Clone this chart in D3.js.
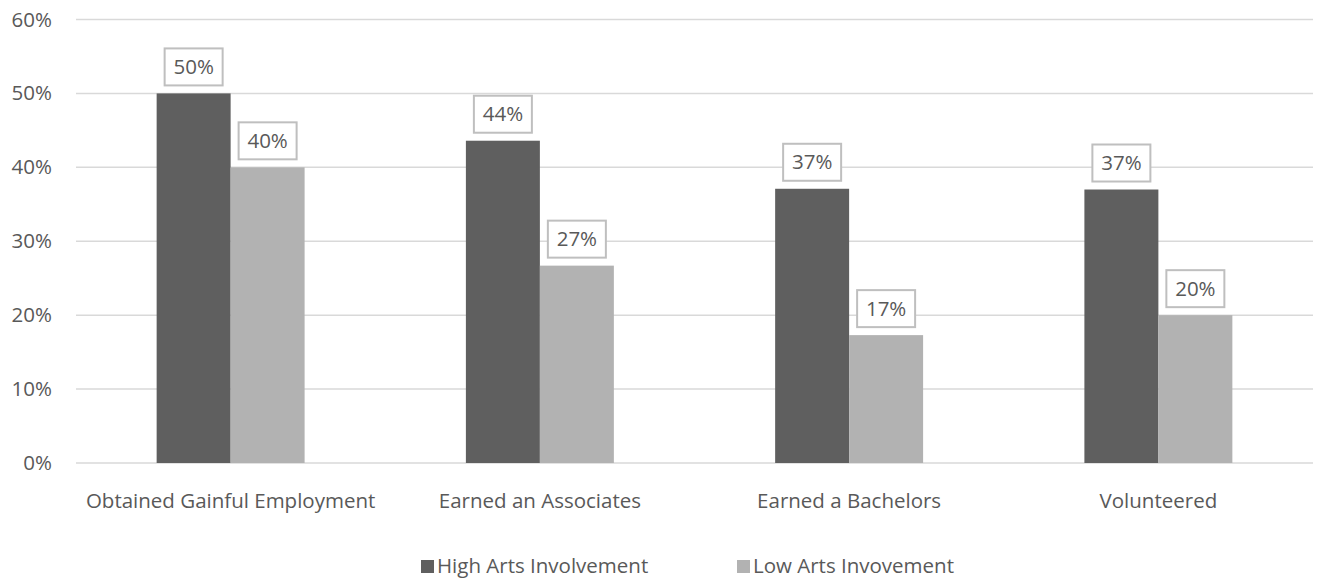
<!DOCTYPE html>
<html>
<head>
<meta charset="utf-8">
<script src="https://cdn.jsdelivr.net/npm/d3@7"></script>
<style>
  html, body { margin: 0; padding: 0; background: #fff; }
  svg { display: block; font-family: "Open Sans", "Noto Sans", sans-serif; }
</style>
</head>
<body>
<svg id="chart" width="1318" height="578"></svg>
<script>
// data
const categories = ['Obtained Gainful Employment', 'Earned an Associates', 'Earned a Bachelors', 'Volunteered'];
const seriesNames = ['High Arts Involvement', 'Low Arts Invovement'];
const highArts = [50.0, 43.6, 37.1, 37.0];
const lowArts = [40.0, 26.7, 17.3, 20.0];
const yTicks = [0, 10, 20, 30, 40, 50, 60];

const colors = ['#5f5f5f', '#b2b2b2'];
const textColor = '#595959';
const fontSize = '20.5px';

const svg = d3.select('#chart');
const plot = { left: 76, right: 1313, top: 19.5, bottom: 463 };

const x0 = d3.scaleBand().domain(categories).range([plot.left, plot.right]).padding(0);
// two bars of ~74px inside each ~309px group
const x1 = d3.scaleBand().domain(seriesNames)
  .range([0, x0.bandwidth()]).paddingInner(0).paddingOuter(1.09);
const y = d3.scaleLinear().domain([0, 60]).range([plot.bottom, plot.top]);

// gridlines
svg.append('g')
  .selectAll('line')
  .data(yTicks)
  .join('line')
  .attr('x1', plot.left).attr('x2', plot.right)
  .attr('y1', (d) => y(d)).attr('y2', (d) => y(d))
  .attr('stroke', '#d9d9d9')
  .attr('stroke-width', 1.5);

// y axis labels
const yAxis = d3.axisLeft(y).tickValues(yTicks).tickFormat((d) => d + '%').tickSize(0).tickPadding(0);
const gy = svg.append('g').attr('transform', 'translate(52,0)').call(yAxis);
gy.select('.domain').remove();
gy.selectAll('text')
  .attr('fill', textColor)
  .style('font-size', fontSize)
  .style('font-family', '"Open Sans", sans-serif');

// bars
const rows = categories.map((c, i) => ({ cat: c, vals: [highArts[i], lowArts[i]] }));
const groups = svg.append('g')
  .selectAll('g')
  .data(rows)
  .join('g')
  .attr('transform', (d) => `translate(${x0(d.cat)},0)`);

groups.selectAll('rect')
  .data((d) => d.vals.map((v, j) => ({ s: seriesNames[j], v, j })))
  .join('rect')
  .attr('x', (d) => x1(d.s))
  .attr('y', (d) => y(d.v))
  .attr('width', x1.bandwidth())
  .attr('height', (d) => y(0) - y(d.v))
  .attr('fill', (d) => colors[d.j]);

// boxed data labels
const boxW = 58, boxH = 37;
const labels = groups.selectAll('g.lbl')
  .data((d) => d.vals.map((v, j) => ({ s: seriesNames[j], v, j })))
  .join('g')
  .attr('class', 'lbl')
  .attr('transform', (d) => `translate(${x1(d.s) + x1.bandwidth() / 2},${y(d.v) - 8 - boxH / 2})`);
labels.append('rect')
  .attr('x', -boxW / 2).attr('y', -boxH / 2)
  .attr('width', boxW).attr('height', boxH)
  .attr('fill', '#fff')
  .attr('stroke', '#bfbfbf')
  .attr('stroke-width', 2);
labels.append('text')
  .attr('text-anchor', 'middle')
  .attr('dy', '0.35em')
  .attr('fill', textColor)
  .style('font-size', fontSize)
  .text((d) => Math.round(d.v) + '%');

// category labels
svg.append('g')
  .selectAll('text')
  .data(categories)
  .join('text')
  .attr('x', (d) => x0(d) + x0.bandwidth() / 2)
  .attr('y', 508)
  .attr('text-anchor', 'middle')
  .attr('fill', textColor)
  .style('font-size', fontSize)
  .text((d) => d);

// legend
const legendX = [421, 737];
const legend = svg.append('g')
  .selectAll('g')
  .data(seriesNames)
  .join('g')
  .attr('transform', (d, i) => `translate(${legendX[i]},0)`);
legend.append('rect')
  .attr('x', 0).attr('y', 560)
  .attr('width', 13).attr('height', 13)
  .attr('fill', (d, i) => colors[i]);
legend.append('text')
  .attr('x', 16).attr('y', 573)
  .attr('fill', textColor)
  .style('font-size', fontSize)
  .text((d) => d);
</script>
</body>
</html>
